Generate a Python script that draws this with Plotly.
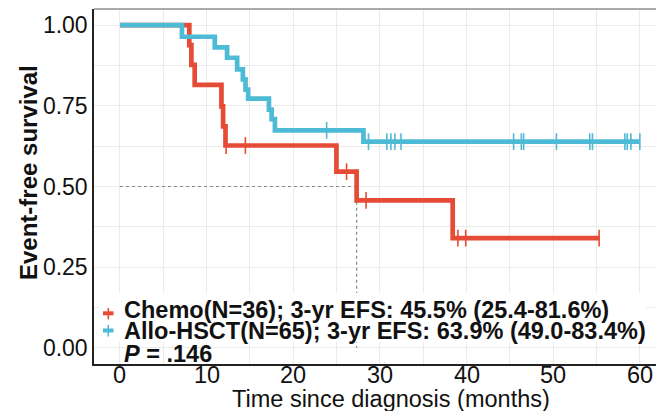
import numpy as np
import plotly.graph_objects as go

# ---------------- data ----------------
chemo_event_times = [0, 8.0, 8.24, 8.62, 11.71, 11.9, 12.18, 24.98, 27.31, 38.4]
chemo_surv = [1.0, 0.938, 0.877, 0.815, 0.748, 0.686, 0.627, 0.546, 0.457, 0.340]
chemo_censor = [12.25, 14.47, 26.15, 28.4, 39.0, 39.9, 55.3]

allo_event_times = [0, 7.15, 10.94, 12.36, 13.52, 14.18, 14.49, 14.79, 17.19, 17.5, 17.88, 28.1]
allo_surv = [1.0, 0.964, 0.931, 0.899, 0.863, 0.832, 0.800, 0.772, 0.738, 0.709, 0.674, 0.639]
allo_censor = [23.85, 28.68, 30.8, 31.27, 31.73, 32.43, 45.43, 46.32, 46.59, 50.37,
               54.22, 54.53, 58.27, 58.54, 58.97, 60.0]

chemo_median = 27.31

x_ticks = [0, 10, 20, 30, 40, 50, 60]
x_tick_labels = ["0", "10", "20", "30", "40", "50", "60"]
y_ticks = [0, 0.25, 0.5, 0.75, 1.0]
y_tick_labels = ["0.00", "0.25", "0.50", "0.75", "1.00"]

legend_labels = ["Chemo(N=36); 3-yr EFS: 45.5% (25.4-81.6%)",
                 "Allo-HSCT(N=65); 3-yr EFS: 63.9% (49.0-83.4%)"]
p_text = "<i>P</i> = .146"

RED = "#E64B35"
BLUE = "#4DBBD5"
FONT = "Liberation Sans, Arial, sans-serif"

# ---------------- layout geometry (pixels) ----------------
W, H = 656, 411
L, R, T, B = 94, 656, 9, 364


def px(xp):
    return (xp - L) / (R - L)


def py(yp):
    return (B - yp) / (B - T)


def step_value(times, surv, t):
    i = np.searchsorted(np.asarray(times), t, side="right") - 1
    return np.asarray(surv)[i]


fig = go.Figure()


def add_curve(times, surv, censor, color):
    xs = list(times) + [max(censor)]
    ys = list(surv) + [surv[-1]]
    fig.add_trace(go.Scatter(x=xs, y=ys, mode="lines", line=dict(color=color, width=4.7, shape="hv"),
                             showlegend=False, hoverinfo="skip"))
    cy = [step_value(times, surv, c) for c in censor]
    fig.add_trace(go.Scatter(x=censor, y=cy, mode="markers",
                             marker=dict(symbol="line-ns", size=12, line=dict(color=color, width=1.6)),
                             showlegend=False, hoverinfo="skip"))


# median lines
fig.add_trace(go.Scatter(x=[0, chemo_median, chemo_median], y=[0.5, 0.5, 0], mode="lines",
                         line=dict(color="#8a8a8a", width=1.2, dash="dot"), showlegend=False,
                         hoverinfo="skip"))

add_curve(chemo_event_times, chemo_surv, chemo_censor, RED)
add_curve(allo_event_times, allo_surv, allo_censor, BLUE)

grid = "#EBEBEB"
fig.update_xaxes(range=[-3, (R - 121.5) / 8.64], tickvals=x_ticks, showticklabels=False,
                 showgrid=True, gridcolor=grid, gridwidth=1,
                 minor=dict(dtick=5, tick0=0, showgrid=True, gridcolor=grid, gridwidth=1),
                 showline=True, linecolor="#222", linewidth=1.5, zeroline=False, ticks="")
fig.update_yaxes(range=[-0.05, 1.05], tickvals=y_ticks, ticktext=y_tick_labels,
                 showgrid=True, gridcolor=grid, gridwidth=1,
                 minor=dict(dtick=0.125, tick0=0, showgrid=True, gridcolor=grid, gridwidth=1),
                 showline=True, linecolor="#222", linewidth=1.5, zeroline=False,
                 ticks="", tickfont=dict(family=FONT, size=23, color="#111"))

shapes = []
# top panel border
shapes.append(dict(type="line", xref="paper", yref="paper", x0=0, x1=1, y0=1, y1=1,
                   line=dict(color="#8c8c8c", width=1.5), layer="above"))
# legend background
shapes.append(dict(type="rect", xref="paper", yref="paper", x0=px(99), x1=px(646), y0=py(342), y1=py(293),
                   fillcolor="white", line=dict(width=0), layer="above"))
# legend keys
for color, yc, (y0, y1) in [(RED, 313.3, (308, 319.3)), (BLUE, 330.5, (325, 336.5))]:
    shapes.append(dict(type="line", xref="paper", yref="paper", x0=px(103), x1=px(113.5), y0=py(yc), y1=py(yc),
                       line=dict(color=color, width=4), layer="above"))
    shapes.append(dict(type="line", xref="paper", yref="paper", x0=px(108.3), x1=px(108.3), y0=py(y0), y1=py(y1),
                       line=dict(color=color, width=1.6), layer="above"))

annotations = []
for txt, yc in [(legend_labels[0], 310), (legend_labels[1], 331), (p_text, 353.5)]:
    annotations.append(dict(text="<b>" + txt + "</b>", xref="paper", yref="paper", x=px(122), y=py(yc),
                            xanchor="left", yanchor="middle", showarrow=False,
                            font=dict(family=FONT, size=23.5, color="#111")))
# x tick labels
for v, lab in zip(x_ticks, x_tick_labels):
    annotations.append(dict(text=lab, xref="x", yref="paper", x=v, y=py(374.5),
                            xanchor="center", yanchor="middle", showarrow=False,
                            font=dict(family=FONT, size=23.5, color="#111")))
annotations.append(dict(text="Time since diagnosis (months)", xref="paper", yref="paper",
                        x=px(391), y=py(398.5), xanchor="center", yanchor="middle", showarrow=False,
                        font=dict(family=FONT, size=23.5, color="#111")))
annotations.append(dict(text="<b>Event-free survival</b>", xref="paper", yref="paper",
                        x=px(28), y=py(173), xanchor="center", yanchor="middle", showarrow=False,
                        textangle=-90, font=dict(family=FONT, size=24, color="#111")))

fig.update_layout(width=W, height=H, margin=dict(l=L, r=W - R, t=T, b=H - B),
                  plot_bgcolor="white", paper_bgcolor="white",
                  shapes=shapes, annotations=annotations, showlegend=False)

fig.write_html("out.html")
